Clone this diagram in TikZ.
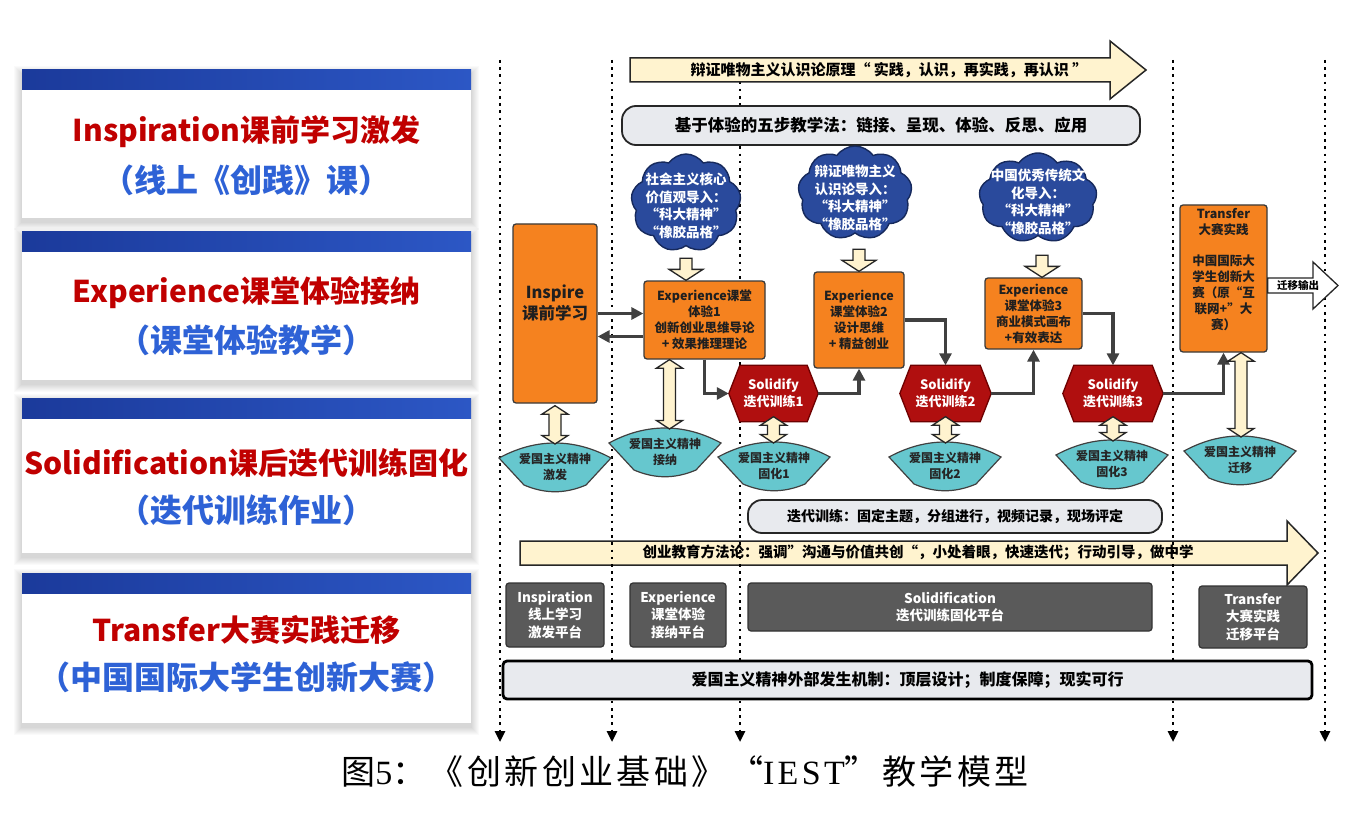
\documentclass[tikz,border=0pt]{standalone}
\usepackage{fontspec}
\setmainfont{Noto Sans CJK SC}[AutoFakeSlant=0.22]
\newfontfamily\capfont{Noto Sans CJK SC}[LetterSpace=10]
\newfontfamily\capserif{Liberation Serif}[LetterSpace=10]
\usetikzlibrary{arrows.meta,calc,shapes.symbols}
\definecolor{barL}{HTML}{1B3A9B}
\definecolor{barR}{HTML}{2C57C5}
\definecolor{redt}{HTML}{C00000}
\definecolor{bluet}{HTML}{2E62D6}
\definecolor{orng}{HTML}{F5821F}
\definecolor{edgec}{HTML}{3A3A3A}
\definecolor{hexred}{HTML}{B00F0F}
\definecolor{hexedge}{HTML}{6E0000}
\definecolor{fancyan}{HTML}{66C7CE}
\definecolor{cream}{HTML}{FFF3CF}
\definecolor{cloudb}{HTML}{2A4A9C}
\definecolor{cloude}{HTML}{16295C}
\definecolor{platc}{HTML}{5A5A5A}
\definecolor{pillgray}{HTML}{E8EAEE}
\definecolor{connc}{HTML}{404040}
\tikzset{
  redtxt/.style={text=redt, font=\fontsize{30}{34}\selectfont\bfseries, inner sep=0pt},
  bluetxt/.style={text=bluet, font=\fontsize{32}{36}\selectfont\bfseries, inner sep=0pt},
  obox/.style={draw=edgec, fill=orng, line width=1.3pt, rounded corners=3pt, inner sep=0pt, align=center, font=\fontsize{12.5}{16}\selectfont\bfseries, text=black!88},
  otext/.style={inner sep=0pt, align=center, font=\fontsize{12.5}{16}\selectfont\bfseries, text=black!88},
  hexfill/.style={fill=hexred, draw=hexedge, line width=1.3pt, line join=miter},
  hextext/.style={inner sep=0pt, align=center, text=white, font=\fontsize{13}{17}\selectfont\bfseries},
  pill/.style={draw=black!85, fill=pillgray, line width=1.8pt, rounded corners=14pt, inner sep=0pt},
  platbox/.style={draw=black!80, fill=platc, line width=1.2pt, rounded corners=3pt, inner sep=0pt, align=center, text=white, font=\fontsize{13.5}{17.5}\selectfont\bfseries},
  pbar/.style={draw=black, fill=pillgray, line width=2.8pt, rounded corners=4pt, inner sep=0pt, font=\fontsize{16}{20}\selectfont\bfseries},
  conn/.style={draw=connc, line width=3.5pt, -{Triangle[length=12pt,width=12pt]}},
  vline/.style={draw=black, line width=2.6pt, dash pattern=on 2.6pt off 4.6pt, -{Triangle[length=11pt,width=10pt]}},
  hollowarr/.style={fill=cream, draw=black!85, line width=1.3pt, line join=miter},
  bigarrow/.style={fill=cream, draw=black!85, line width=1.5pt, line join=miter},
  fanfill/.style={fill=fancyan, draw=black!75, line width=1.2pt},
  fantext/.style={inner sep=0pt, align=center, text=black!85, font=\fontsize{12}{16}\selectfont\bfseries},
  cloudbox/.style={cloud, cloud puffs=9, cloud puff arc=110, cloud ignores aspect, fill=cloudb, draw=cloude, line width=1.4pt, inner sep=0pt},
  cloudtxt/.style={inner sep=0pt, align=center, text=white, font=\fontsize{13.5}{17.5}\selectfont\bfseries\itshape},
  downarr/.pic={\path[hollowarr] (0,0) -- (-17,-11) -- (-6,-11) -- (-6,-22) -- (6,-22) -- (6,-11) -- (17,-11) -- cycle;}
}
\newcommand{\fanshape}[4]{%
  \path[fanfill] (#2-56,#3-9) .. controls (#2-19,#3-29) and (#2+19,#3-29) .. (#2+56,#3-9)
     -- (#2+31,#3+18) .. controls (#2+10,#3+27) and (#2-10,#3+27) .. (#2-31,#3+18) -- cycle;
  \node[fantext] (#1) at (#2,#3) {#4};
  \coordinate (#1-top) at (#2,#3-23);
}
\newcommand{\dblarr}[2]{%
  \path[hollowarr] let \p1=(#1), \p2=(#2) in
    (\x1,\y1) -- (\x1+13pt,\y1-8.5pt) -- (\x1+6pt,\y1-8.5pt) -- (\x1+6pt,\y2+8.5pt)
    -- (\x1+13pt,\y2+8.5pt) -- (\x1,\y2) -- (\x1-13pt,\y2+8.5pt) -- (\x1-6pt,\y2+8.5pt)
    -- (\x1-6pt,\y1-8.5pt) -- (\x1-13pt,\y1-8.5pt) -- cycle;
}
\newcommand{\hexshape}[5]{% name x y halfwidth text
  \node[inner sep=0pt, minimum width=2*#4, minimum height=56pt] (#1) at (#2,#3) {};
  \path[hexfill] (#1.west) -- ([xshift=11pt]#1.north west) -- ([xshift=-11pt]#1.north east)
     -- (#1.east) -- ([xshift=-11pt]#1.south east) -- ([xshift=11pt]#1.south west) -- cycle;
  \node[hextext] (#1-t) at (#2,#3) {#5};
}
\begin{document}
\begin{tikzpicture}[x=1pt,y=-1pt]
\useasboundingbox (0,0) rectangle (1371,813);
\fill[white] (0,0) rectangle (1371,813);

% ---------- left panels ----------
\foreach \ptop/\pbot in {70/218, 232/380, 398/553, 573/723} {
  \foreach \k in {1,...,8}
    \fill[black, opacity=0.018] (22-\k,\ptop-\k+4) rectangle (471+\k,\pbot+\k+4);
  \fill[white] (22,\ptop) rectangle (471,\pbot);
  \shade[left color=barL, right color=barR] (22,\ptop) rectangle (471,\ptop+20);
}
\node[redtxt]  (l1a) at (246.5,132) {Inspiration课前学习激发};
\node[bluetxt] (l1b) at (246.5,180) {（线上《创践》课）};
\node[redtxt]  (l2a) at (246.5,293) {Experience课堂体验接纳};
\node[bluetxt] (l2b) at (246.5,340) {（课堂体验教学）};
\node[redtxt]  (l3a) at (246.5,463) {Solidification课后迭代训练固化};
\node[bluetxt] (l3b) at (246.5,510) {（迭代训练作业）};
\node[redtxt]  (l4a) at (246.5,630) {Transfer大赛实践迁移};
\node[bluetxt] (l4b) at (246.5,677) {（中国国际大学生创新大赛）};

% ---------- bottom big arrow (under dotted lines) ----------
\path[bigarrow] (520,541) -- (1287,541) -- (1287,521) -- (1318,553) -- (1287,585) -- (1287,565) -- (520,565) -- cycle;
\node[inner sep=0pt, font=\fontsize{14.5}{18}\selectfont\bfseries] (methodtxt) at (918,553)
  {创业教育方法论：强调”沟通与价值共创“，小处着眼，快速迭代；行动引导，做中学};

% ---------- dotted vertical lines ----------
\foreach \vx [count=\i] in {500,612,740,1173,1325} {
  \coordinate (v\i t) at (\vx,60);
  \coordinate (v\i b) at (\vx,742);
  \draw[vline] (v\i t) -- (v\i b);
}

% ---------- top arrow & pill ----------
\path[bigarrow] (630,58) -- (1110,58) -- (1110,41) -- (1146,70) -- (1110,99) -- (1110,82) -- (630,82) -- cycle;
\node[inner sep=0pt, font=\fontsize{15}{18}\selectfont\bfseries] (toptxt) at (889,70)
  {辩证唯物主义认识论原理“ 实践，认识，再实践，再认识 ”};
\node[pill, minimum width=518pt, minimum height=39pt, font=\fontsize{16.5}{20}\selectfont\bfseries] (five) at (881,125.5)
  {基于体验的五步教学法：链接、呈现、体验、反思、应用};

% ---------- clouds ----------
\node[cloudbox, minimum width=110pt, minimum height=98pt] (c1) at (686,203) {};
\node[cloudtxt] (c1t) at (686,206) {社会主义核心\\价值观导入：\\“科大精神”\\“橡胶品格”};
\node[cloudbox, minimum width=114pt, minimum height=94pt] (c2) at (855,193) {};
\node[cloudtxt] (c2t) at (855,198) {辩证唯物主义\\认识论导入：\\“科大精神”\\“橡胶品格”};
\node[cloudbox, minimum width=118pt, minimum height=90pt] (c3) at (1038,198) {};
\node[cloudtxt] (c3t) at (1038,202) {中国优秀传统文\\化导入：\\“科大精神”\\“橡胶品格”};

% ---------- orange boxes ----------
\node[obox, minimum width=84pt, minimum height=179pt] (insp) at (555,313.5) {};
\node[otext, font=\fontsize{16.5}{21}\selectfont\bfseries] (insplbl) at (555,303) {Inspire\\课前学习};
\node[obox, minimum width=121pt, minimum height=78pt] (e1) at (704.5,320) {Experience课堂\\体验1\\创新创业思维导论\\+ 效果推理理论};
\node[obox, minimum width=90pt, minimum height=96pt] (e2) at (859,320) {Experience\\课堂体验2\\设计思维\\+ 精益创业};
\node[obox, minimum width=97pt, minimum height=71pt] (e3) at (1033.5,313.5) {Experience\\课堂体验3\\商业模式画布\\+有效表达};
\node[obox, minimum width=87pt, minimum height=147pt] (tr) at (1223.5,278.5) {};
\node[otext] (trlbl) at (1223.5,270) {Transfer\\大赛实践\\[15pt]中国国际大\\学生创新大\\赛（原“互\\联网+”大\\赛）};

% down arrows from clouds
\pic at (c1.center |- e1.north) {downarr};
\pic at (e2.north) {downarr};
\pic at ([xshift=8.5pt]e3.north) {downarr};

% ---------- solidify hexagons ----------
\hexshape{s1}{773.5}{393.5}{44.5pt}{Solidify\\迭代训练1}
\hexshape{s2}{945.5}{393.5}{45.5pt}{Solidify\\迭代训练2}
\hexshape{s3}{1113}{393.5}{50pt}{Solidify\\迭代训练3}

% ---------- connectors ----------
\draw[conn] (insp.east) -- (insp.east -| e1.west);
\draw[conn] ([yshift=-23pt]insp.east -| e1.west) -- ([yshift=-23pt]insp.east);
\draw[conn] (e1.south) |- (s1.west);
\draw[conn] (s1.east) -| (e2.south);
\draw[conn] (e2.east) -| (s2.north);
\draw[conn] (s2.east) -| (e3.south);
\draw[conn] (e3.east) -| (s3.north);
\draw[conn] (s3.east) -| (tr.south);

% output arrow
\path[fill=white, draw=black!85, line width=1.3pt, line join=miter]
  (tr.east |- 0,278) -- (1313,278) -- (1313,262) -- (1338,285.5) -- (1313,309) -- (1313,293) -- (tr.east |- 0,293) -- cycle;
\node[inner sep=0pt, font=\fontsize{10.5}{12}\selectfont\bfseries] (outlbl) at (1298,285.5) {迁移输出};

% ---------- fans ----------
\fanshape{f1}{555}{467}{爱国主义精神\\激发}
\fanshape{f2}{665}{452}{爱国主义精神\\接纳}
\fanshape{f3}{774}{466}{爱国主义精神\\固化1}
\fanshape{f4}{945}{466}{爱国主义精神\\固化2}
\fanshape{f5}{1112}{464}{爱国主义精神\\固化3}
\fanshape{f6}{1240}{460}{爱国主义精神\\迁移}

% ---------- double arrows ----------
\dblarr{[yshift=-2pt]insp.south}{f1-top}
\dblarr{[xshift=-35pt]e1.south}{f2-top}
\dblarr{[yshift=5pt]s1.south}{f3-top}
\dblarr{[yshift=5pt]s2.south}{f4-top}
\dblarr{[yshift=5pt]s3.south}{f5-top}
\dblarr{[xshift=17.5pt]tr.south}{f6-top}

% ---------- iteration pill ----------
\node[pill, minimum width=414pt, minimum height=33pt, font=\fontsize{14}{18}\selectfont\bfseries] (iter) at (955,516.5)
  {迭代训练：固定主题，分组进行，视频记录，现场评定};

% ---------- platforms ----------
\node[platbox, minimum width=98pt, minimum height=64pt] (p1) at (555,615) {Inspiration\\线上学习\\激发平台};
\node[platbox, minimum width=96pt, minimum height=64pt] (p2) at (678,615) {Experience\\课堂体验\\接纳平台};
\node[platbox, minimum width=404pt, minimum height=48pt] (p3) at (950,607) {Solidification\\迭代训练固化平台};
\node[platbox, minimum width=108pt, minimum height=62pt] (p4) at (1253,617) {Transfer\\大赛实践\\迁移平台};

% ---------- patriotism bar ----------
\node[pbar, minimum width=809pt, minimum height=38pt] (patri) at (907.5,680)
  {爱国主义精神外部发生机制：顶层设计；制度保障；现实可行};

% ---------- caption ----------
\node[inner sep=0pt, font=\fontsize{34}{40}\selectfont] (cap) at (685,772)
  {\capfont 图\capserif 5\capfont：《创新创业基础》“\capserif IEST\capfont”教学模型};
\end{tikzpicture}
\end{document}
